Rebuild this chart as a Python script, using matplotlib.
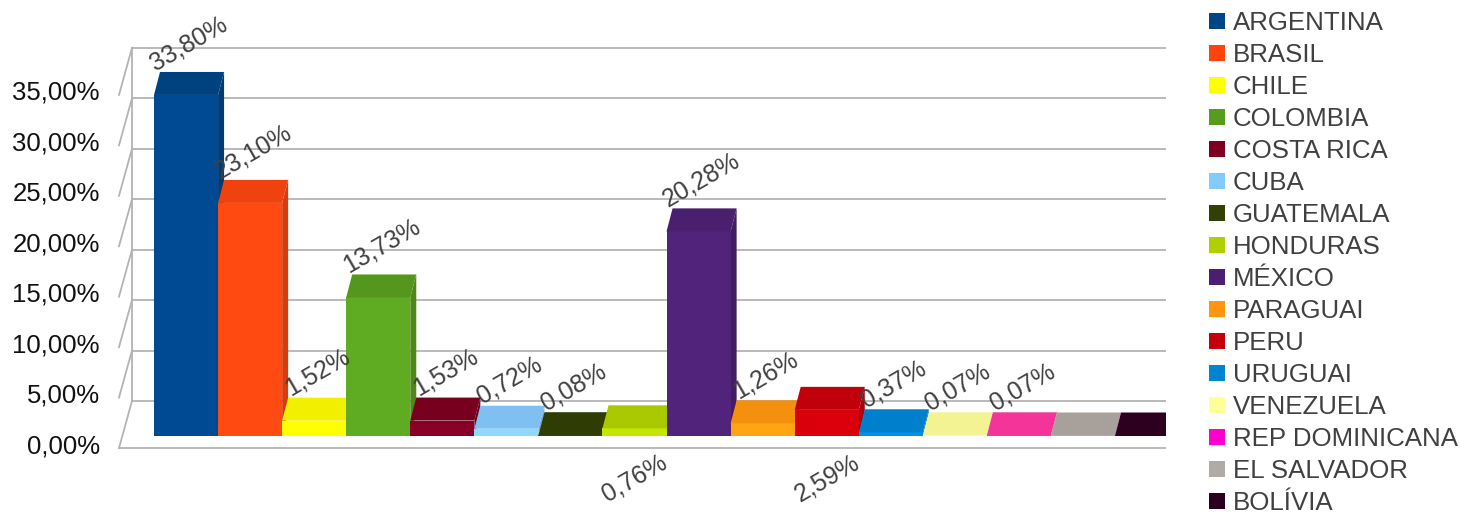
import numpy as np
import matplotlib.pyplot as plt
from matplotlib.patches import Rectangle, Polygon, Patch
from matplotlib.colors import to_rgb

plt.rcParams['font.family'] = ['Liberation Sans', 'DejaVu Sans']

# data
countries = ['ARGENTINA', 'BRASIL', 'CHILE', 'COLOMBIA', 'COSTA RICA', 'CUBA',
             'GUATEMALA', 'HONDURAS', 'MÉXICO', 'PARAGUAI', 'PERU', 'URUGUAI',
             'VENEZUELA', 'REP DOMINICANA', 'EL SALVADOR', 'BOLÍVIA']
values = [33.80, 23.10, 1.52, 13.73, 1.53, 0.72, 0.08, 0.76, 20.28, 1.26,
          2.59, 0.37, 0.07, 0.07, 0.05, 0.05]
labels = ['33,80%', '23,10%', '1,52%', '13,73%', '1,53%', '0,72%', '0,08%',
          '0,76%', '20,28%', '1,26%', '2,59%', '0,37%', '0,07%', '0,07%', '', '']
label_below = [False] * 16
label_below[7] = True
label_below[10] = True
yticks = [0, 5, 10, 15, 20, 25, 30, 35]
ytick_labels = ['0,00%', '5,00%', '10,00%', '15,00%', '20,00%', '25,00%', '30,00%', '35,00%']

legend_colors = ['#004586', '#ff420e', '#ffff00', '#579d1c', '#7e0021', '#83caff',
                 '#314004', '#aecf00', '#4b1f6f', '#ff950e', '#c5000b', '#0084d1',
                 '#ffff99', '#ff00cc', '#b2aaa5', '#2a0020']
front_colors = ['#004a93', '#ff4a12', '#ffff00', '#5fab22', '#880025', '#8fd8ff',
                '#344506', '#c4e600', '#52237a', '#ffa514', '#d9000c', '#0090e5',
                '#ffffa8', '#ff3aae', '#bfb6b0', '#34002a']
top_colors = ['#00417f', '#f0420f', '#f2f000', '#55971c', '#77001f', '#7fc0f2',
              '#2f3d04', '#a9c800', '#4a1f6e', '#f58f0e', '#c0000b', '#0080cc',
              '#f3f394', '#f5349a', '#a8a09b', '#2e0020']


def shade(c, f):
    return tuple(min(1, v * f) for v in to_rgb(c))


fig = plt.figure(figsize=(14.65, 5.16), dpi=100)
W, H = 1465, 516
# axes box in pixels: left, right, top, bottom
L, R, T, B = 110, 1166, 10, 500
ax = fig.add_axes([L / W, 1 - B / H, (R - L) / W, (B - T) / H])
px_bar = 64.07   # pixels per bar slot
px_pct = 10.09   # pixels per percent
x0, y0 = 154, 436
ax.set_xlim((L - x0) / px_bar, (R - x0) / px_bar)
ax.set_ylim((y0 - B) / px_pct, (y0 - T) / px_pct)
ax.axis('off')

# depth offsets in data units
dx = 6 / px_bar
dy = 23 / px_pct
back_x = (132 - x0) / px_bar
front_x = (119 - x0) / px_bar
back_y = (y0 - 401) / px_pct
front_y = (y0 - 448) / px_pct
right_x = (R - x0) / px_bar

gc = '#b3b3b3'
for k, v in enumerate(yticks):
    ax.plot([back_x, right_x], [v + back_y, v + back_y], color=gc, lw=1.3, zorder=1)
    ax.plot([front_x, back_x], [v + front_y, v + back_y], color=gc, lw=1.3, zorder=1)
    ax.text(front_x - 0.3, v - 1.0, ytick_labels[k], ha='right', va='center',
            fontsize=18.5, color='#111111')
ax.plot([back_x, back_x], [back_y, yticks[-1] + back_y], color=gc, lw=1.3, zorder=1)
ax.plot([front_x, right_x], [front_y, front_y], color=gc, lw=1.3, zorder=1)

for i, v in enumerate(values):
    c = front_colors[i]
    ax.add_patch(Polygon([(i + 1, 0), (i + 1, v), (i + 1 + dx, v + dy), (i + 1 + dx, dy)],
                         closed=True, facecolor=shade(top_colors[i], 0.9), edgecolor='none', zorder=2))
    ax.add_patch(Rectangle((i, 0), 1, v, facecolor=c, edgecolor='none', zorder=2))
    ax.add_patch(Polygon([(i, v), (i + 1, v), (i + 1 + dx, v + dy), (i + dx, v + dy)],
                         closed=True, facecolor=top_colors[i], edgecolor='none', zorder=2))

for i, v in enumerate(values):
    if not labels[i]:
        continue
    if label_below[i]:
        ax.text(i + 0.5, -1.4, labels[i], rotation=30, ha='center', va='top',
                fontsize=18, color='#404040', zorder=5)
    else:
        ax.text(i + 0.5 + dx / 2, v + dy - 0.3, labels[i], rotation=30, ha='center',
                va='bottom', fontsize=18, color='#404040', zorder=5)

handles = [Patch(facecolor=legend_colors[i], edgecolor='none') for i in range(len(countries))]
fig.legend(handles, countries, loc='upper left', bbox_to_anchor=(1209 / W, 1 - 11 / H),
           frameon=False, fontsize=18.6, handlelength=0.6, handleheight=0.6,
           handletextpad=0.33, labelspacing=0.31, borderpad=0, borderaxespad=0,
           labelcolor='#404040')

fig.savefig('out.png', dpi=100)
